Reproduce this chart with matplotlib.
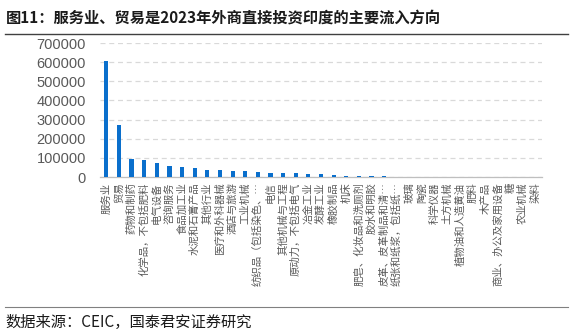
import matplotlib
matplotlib.use('Agg')
import matplotlib.pyplot as plt
from matplotlib.lines import Line2D

plt.rcParams['font.family'] = ['Noto Sans CJK SC', 'DejaVu Sans']
plt.rcParams['axes.unicode_minus'] = False

# 行业类别
categories = ['服务业', '贸易', '药物和制药', '化学品，不包括肥料', '电气设备', '咨询服务',
              '食品加工业', '水泥和石膏产品', '其他行业', '医疗和外科器械', '酒店与旅游',
              '工业机械', '纺织品（包括染色、…', '电信', '其他机械与工程', '原动力，不包括电气',
              '冶金工业', '发酵工业', '橡胶制品', '机床', '肥皂、化妆品和洗厕剂', '胶水和明胶',
              '皮革、皮革制品和清…', '纸张和纸浆，包括纸…', '玻璃', '陶瓷', '科学仪器', '土方机械',
              '植物油和人造黄油', '肥料', '木产品', '商业、办公及家用设备', '糖', '农业机械', '染料']
# 流入金额
values = [605000, 272000, 92000, 87000, 73000, 57000, 52000, 47000, 38000, 37000, 33000,
          30000, 27000, 22000, 21000, 19000, 17000, 15000, 9000, 6000, 5000, 4000,
          3000, 2500, 2000, 1500, 1200, 1000, 800, 600, 500, 400, 300, 200, 100]
yticks = [0, 100000, 200000, 300000, 400000, 500000, 600000, 700000]

fig = plt.figure(figsize=(5.73, 3.34), dpi=100)
ax = fig.add_axes([0.1745, 0.47, 0.7715, 0.401])

x = range(len(categories))
ax.bar(x, values, width=0.33, color='#0A6FCC', zorder=3)

ax.set_xlim(-0.5, len(categories) - 0.5)
ax.set_ylim(0, 700000)
ax.set_yticks(yticks)
ax.set_yticklabels([str(v) for v in yticks], fontsize=10.5, color='#595959',
                   family=['Liberation Sans', 'DejaVu Sans'])
ax.set_xticks(list(x))
ax.set_xticklabels(categories, rotation=90, fontsize=7.5, color='#595959', va='top', ha='center')
ax.tick_params(axis='y', length=0, pad=10)
ax.tick_params(axis='x', length=0, pad=4)
ax.grid(axis='y', linestyle=(0, (4, 3)), color='#D9D9D9', linewidth=0.9, zorder=0)
for s in ['left', 'right', 'top']:
    ax.spines[s].set_visible(False)
ax.spines['bottom'].set_color('#BFBFBF')
ax.spines['bottom'].set_linewidth(0.9)

# 标题和来源
fig.text(0.01, 0.948, '图11：服务业、贸易是2023年外商直接投资印度的主要流入方向',
         fontsize=11, fontweight='bold', va='center', ha='left', color='#1a1a1a')
fig.add_artist(Line2D([0.009, 0.992], [0.898, 0.898], color='#404040', linewidth=1.0))
fig.add_artist(Line2D([0.009, 0.992], [0.081, 0.081], color='#808080', linewidth=0.8))
fig.text(0.01, 0.036, '数据来源：CEIC，国泰君安证券研究', fontsize=11, va='center', ha='left',
         color='#1a1a1a')

plt.savefig('out.png', dpi=100)
